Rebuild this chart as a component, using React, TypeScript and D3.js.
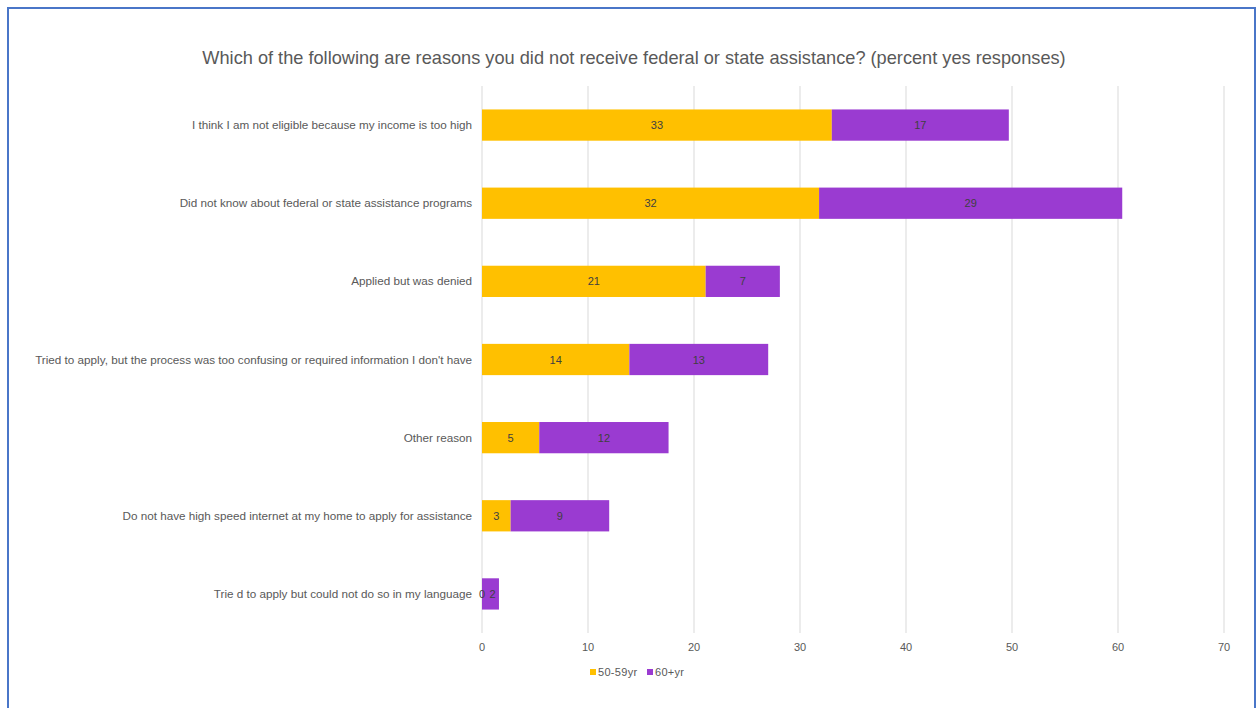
import React from "react";
import * as d3 from "d3";

const categories = [
  "I think I am not eligible because my income is too high",
  "Did not know about federal or state assistance programs",
  "Applied but was denied",
  "Tried to apply, but the process was too confusing or required information I don't have",
  "Other reason",
  "Do not have high speed internet at my home to apply for assistance",
  "Trie d to apply but could not do so in my language",
];
const series5059 = [33.0, 31.8, 21.1, 13.9, 5.4, 2.7, 0.0];
const series60 = [16.7, 28.6, 7.0, 13.1, 12.2, 9.3, 1.6];
const seriesNames = ["50-59yr", "60+yr"];
const colors = ["#FFC000", "#9A3BD1"];
const xTicks = [0, 10, 20, 30, 40, 50, 60, 70];
const title =
  "Which of the following are reasons you did not receive federal or state assistance? (percent yes responses)";

export default function App() {
  const W = 1257,
    H = 708;
  const left = 482,
    right = 1224,
    top = 86,
    bottom = 633;
  const x = d3.scaleLinear().domain([0, 70]).range([left, right]);
  const y = d3
    .scaleBand<string>()
    .domain(categories)
    .range([top, bottom])
    .paddingInner(0.6)
    .paddingOuter(0.3);
  const font = "'Liberation Sans', Arial, sans-serif";
  const bw = y.bandwidth();
  return (
    <svg
      width={W}
      height={H}
      style={{ position: "absolute", left: 0, top: 0, background: "#fff" }}
      fontFamily={font}
    >
      <rect x={8} y={8} width={1247} height={720} fill="#fff" stroke="#4A76C8" strokeWidth={2} />
      <text x={634} y={64} textAnchor="middle" fontSize={18.2} fill="#595959">
        {title}
      </text>
      {xTicks.map((t) => (
        <g key={t}>
          <line x1={x(t)} x2={x(t)} y1={top} y2={bottom} stroke="#D9D9D9" strokeWidth={1} />
          <text x={x(t)} y={651} textAnchor="middle" fontSize={11} fill="#595959">
            {t}
          </text>
        </g>
      ))}
      {categories.map((c, i) => {
        const y0 = y(c)!;
        const a = series5059[i];
        const b = series60[i];
        const cy = y0 + bw / 2;
        return (
          <g key={c}>
            <text x={472} y={cy + 4} textAnchor="end" fontSize={11.7} fill="#595959">
              {c}
            </text>
            <rect x={x(0)} y={y0} width={x(a) - x(0)} height={bw} fill={colors[0]} />
            <rect x={x(a)} y={y0} width={x(a + b) - x(a)} height={bw} fill={colors[1]} />
            <text
              x={(x(0) + x(a)) / 2}
              y={cy + 4}
              textAnchor="middle"
              fontSize={11}
              fill="#404040"
            >
              {Math.round(a)}
            </text>
            <text
              x={a === 0 ? x(a) + (x(a + b) - x(a)) / 2 + 2 : (x(a) + x(a + b)) / 2}
              y={cy + 4}
              textAnchor="middle"
              fontSize={11}
              fill="#404040"
            >
              {Math.round(b)}
            </text>
          </g>
        );
      })}
      {seriesNames.map((s, i) => {
        const lx = i === 0 ? 590 : 647;
        return (
          <g key={s}>
            <rect x={lx} y={669} width={6} height={6} fill={colors[i]} />
            <text x={lx + 8} y={676} fontSize={11} letterSpacing={0.3} fill="#595959">
              {s}
            </text>
          </g>
        );
      })}
    </svg>
  );
}
